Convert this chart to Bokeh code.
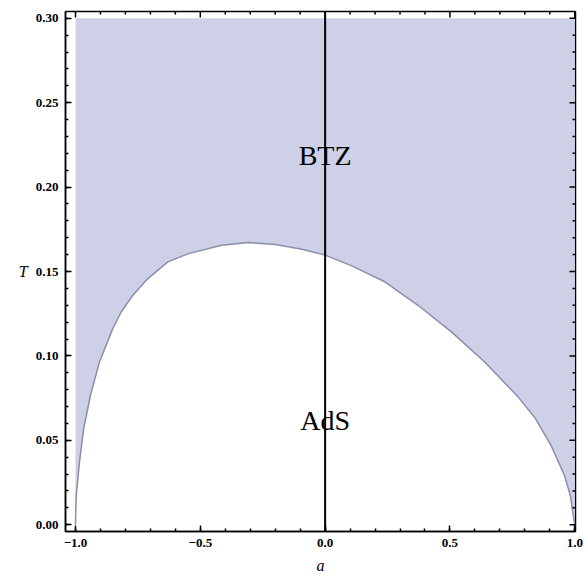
import math
from bokeh.plotting import figure
from bokeh.models import FixedTicker, Span, Range1d
from bokeh.core.properties import value
from bokeh.embed import file_html
from bokeh.resources import INLINE

# boundary curve T_c(a)
a_vals = [-1.0, -0.997, -0.984, -0.967, -0.940, -0.904, -0.851, -0.817, -0.770, -0.710,
          -0.630, -0.547, -0.414, -0.307, -0.200, -0.093, 0.0, 0.105, 0.239, 0.372,
          0.505, 0.639, 0.772, 0.842, 0.905, 0.959, 0.982, 0.992, 1.0]
T_vals = [0.0, 0.0174, 0.0372, 0.057, 0.0767, 0.0964, 0.116, 0.126, 0.136, 0.1458,
          0.1557, 0.1606, 0.1656, 0.1672, 0.166, 0.1632, 0.1597, 0.1535, 0.1439, 0.130,
          0.1144, 0.0964, 0.0759, 0.063, 0.047, 0.0292, 0.0175, 0.0077, 0.0]
T_top = 0.30

x_ticks = [-1.0, -0.5, 0.0, 0.5, 1.0]
x_tick_labels = ["\u22121.0", "\u22120.5", "0.0", "0.5", "1.0"]
x_minor = [round(-1.0 + 0.1 * i, 2) for i in range(21)]
y_ticks = [0.0, 0.05, 0.10, 0.15, 0.20, 0.25, 0.30]
y_tick_labels = ["0.00", "0.05", "0.10", "0.15", "0.20", "0.25", "0.30"]
y_minor = [round(0.01 * i, 2) for i in range(31)]

region_names = ["BTZ", "AdS"]
region_a = [0.0, 0.0]
region_T = [0.219, 0.062]

SERIF = "Liberation Serif"
X0, X1 = -1.04, 1.003
Y0, Y1 = -0.004, 0.304

p = figure(width=584, height=577,
           x_range=Range1d(X0, X1), y_range=Range1d(Y0, Y1),
           output_backend="svg", toolbar_location=None,
           min_border_left=65, min_border_right=9, min_border_top=11, min_border_bottom=46)
p.grid.grid_line_color = None
p.outline_line_color = "black"
p.outline_line_width = 1.5

p.varea(x=a_vals, y1=T_vals, y2=[T_top] * len(a_vals), fill_color="#cdd0e7", fill_alpha=1.0)
p.line(x=a_vals, y=T_vals, line_color="#8c8ea8", line_width=1.5)

p.add_layout(Span(location=0.0, dimension="height", line_color="black", line_width=2))

p.text(x=region_a, y=region_T, text=region_names, text_font=value(SERIF),
       text_font_size="28px", text_align="center", text_baseline="alphabetic", text_color="black")

# mirrored inner ticks on the top and right frame edges (half of each dash is clipped away)
x_major_set = set(x_ticks)
y_major_set = set(y_ticks)
tx_minor = [t for t in x_minor if t not in x_major_set]
ty_minor = [t for t in y_minor if t not in y_major_set]
p.scatter(x=x_ticks, y=[Y1] * len(x_ticks), marker="dash", angle=math.pi / 2, size=12,
          line_color="black", line_width=1.5)
p.scatter(x=tx_minor, y=[Y1] * len(tx_minor), marker="dash", angle=math.pi / 2, size=6,
          line_color="black", line_width=1.5)
p.scatter(x=[X1] * len(y_ticks), y=y_ticks, marker="dash", size=12,
          line_color="black", line_width=1.5)
p.scatter(x=[X1] * len(ty_minor), y=ty_minor, marker="dash", size=6,
          line_color="black", line_width=1.5)

xt = FixedTicker(ticks=x_ticks, minor_ticks=x_minor)
yt = FixedTicker(ticks=y_ticks, minor_ticks=y_minor)


def style(ax):
    ax.axis_line_color = "black"
    ax.axis_line_width = 1.5
    ax.major_tick_in = 6
    ax.major_tick_out = 0
    ax.minor_tick_in = 3
    ax.minor_tick_out = 0
    ax.major_tick_line_color = "black"
    ax.major_tick_line_width = 1.5
    ax.minor_tick_line_color = "black"
    ax.minor_tick_line_width = 1.5
    ax.major_label_text_font = SERIF
    ax.major_label_text_font_size = "13px"
    ax.major_label_text_font_style = "bold"
    ax.major_label_text_color = "black"
    ax.axis_label_text_font = SERIF
    ax.axis_label_text_font_style = "italic"
    ax.axis_label_text_font_size = "16px"
    ax.axis_label_text_color = "black"


p.xaxis.ticker = xt
p.yaxis.ticker = yt
p.xaxis.major_label_overrides = {t: s for t, s in zip(x_ticks, x_tick_labels)}
p.yaxis.major_label_overrides = {t: s for t, s in zip(y_ticks, y_tick_labels)}
style(p.xaxis[0])
style(p.yaxis[0])
p.xaxis.major_label_standoff = 7
p.yaxis.major_label_standoff = 7
p.xaxis.axis_label = "a"
p.xaxis.axis_label_standoff = 7
p.yaxis.axis_label = "T"
p.yaxis.axis_label_standoff = 5
yax = p.yaxis[0]
if "axis_label_orientation" in yax.properties():
    yax.axis_label_orientation = "horizontal"

open("out.html", "w").write(file_html(p, INLINE))
